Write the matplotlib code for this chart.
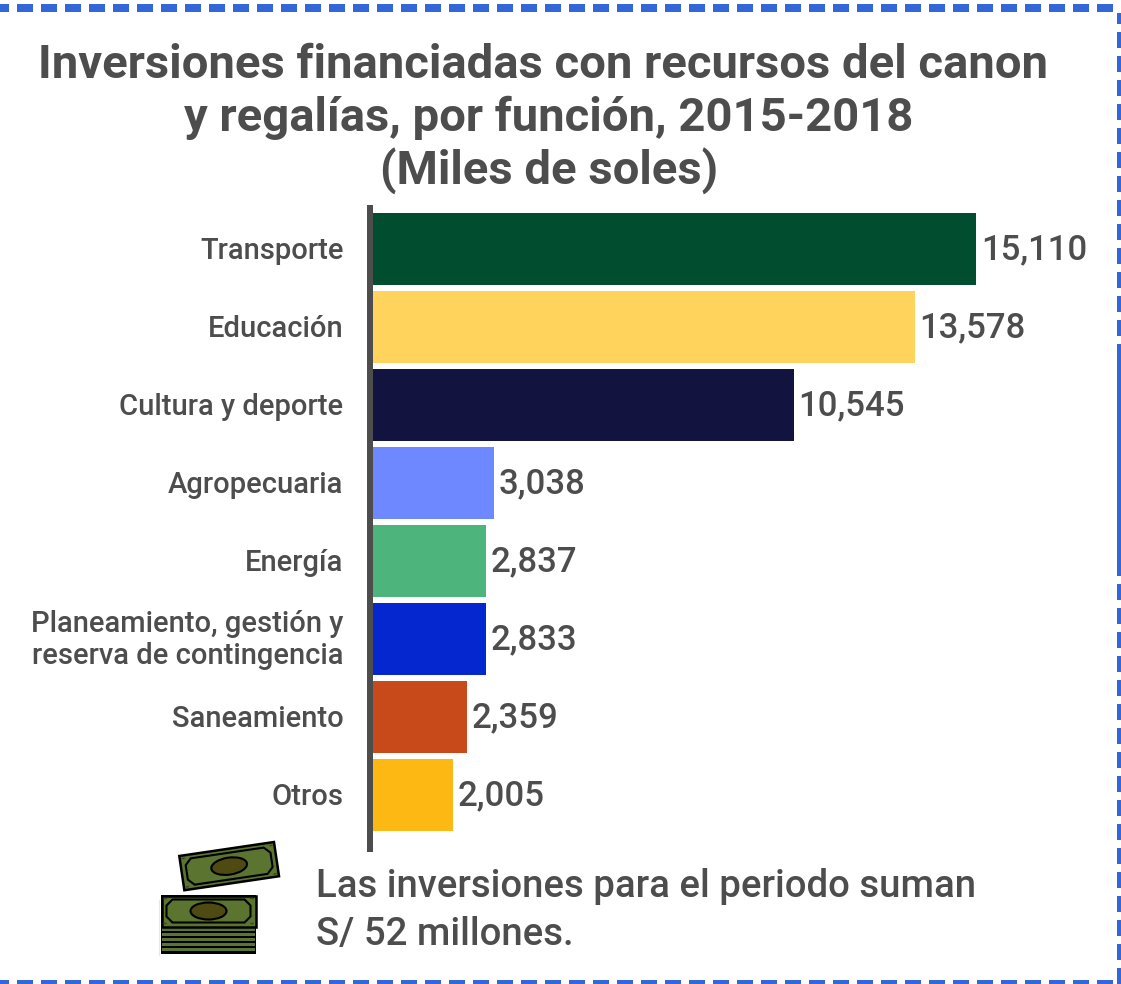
import matplotlib
matplotlib.use('Agg')
import matplotlib.pyplot as plt
from matplotlib.patches import Rectangle, Ellipse, Polygon
from matplotlib.transforms import Affine2D, ScaledTranslation

plt.rcParams['font.family'] = ['Roboto', 'DejaVu Sans']

categories = ['Transporte', 'Educación', 'Cultura y deporte', 'Agropecuaria', 'Energía',
              'Planeamiento, gestión y\nreserva de contingencia', 'Saneamiento', 'Otros']
values = [15110, 13578, 10545, 3038, 2837, 2833, 2359, 2005]
bar_colors = ['#004D30', '#FFD35C', '#12143F', '#6E89FF', '#4DB57C', '#0527D0', '#C84A1B', '#FDB813']
title_lines = ['Inversiones financiadas con recursos del canon',
               'y regalías, por función, 2015-2018',
               '(Miles de soles)']
note = 'Las inversiones para el periodo suman\nS/ 52 millones.'

W, H = 1121, 984
TEXT = '#4D4D4D'
BLUE = '#3366D6'
GREEN = '#5B7430'

fig = plt.figure(figsize=(W / 100, H / 100), dpi=100)

# bars: axes runs from the bar origin to the right edge of the figure
ax = fig.add_axes([373 / W, 1 - 852 / H, (W - 373) / W, (852 - 205) / H])
for s in ['top', 'right', 'bottom']:
    ax.spines[s].set_visible(False)
# moving the spine resets the ticks, so this comes before the tick labels
ax.spines['left'].set_position(('outward', 3 * 0.72))
ax.spines['left'].set_linewidth(6 * 0.72)
ax.spines['left'].set_color(TEXT)
ax.spines['left'].set_capstyle('butt')

y = list(range(len(categories)))
bars = ax.barh(y, values, height=0.92, color=bar_colors)
ax.set_xlim(0, 18747)
ax.set_ylim(7.731, -0.564)
ax.set_yticks(y, categories, fontsize=21, fontweight='medium', color=TEXT,
              multialignment='right', linespacing=1.16)
ax.tick_params(axis='y', length=0, pad=19)
ax.xaxis.set_visible(False)
# nudge the labels up, the two-line one a bit more
for lab in ax.get_yticklabels():
    dy = 3.5 if '\n' in lab.get_text() else 1
    lab.set_transform(lab.get_transform() + ScaledTranslation(0, dy / 100, fig.dpi_scale_trans))
labels = ax.bar_label(bars, fmt='{:,.0f}', padding=3.5, fontsize=25, fontweight='medium', color=TEXT)
for t in labels:
    t.xyann = (t.xyann[0], -0.8)
ax.patch.set_alpha(0)

# title lines are not quite centred on each other in the source
for line, cx, base in zip(title_lines, [542.5, 549, 549], [78, 131, 184]):
    fig.text(cx / W, 1 - base / H, line, ha='center', va='baseline', fontsize=34,
             fontweight='bold', color=TEXT)
fig.text(316 / W, 1 - 910.5 / H, note, ha='left', va='center', fontsize=27.6,
         fontweight='medium', color=TEXT, linespacing=1.365)

# overlay in pixel coordinates for the frame and the money icon
ov = fig.add_axes([0, 0, 1, 1], zorder=5)
ov.set_xlim(0, W)
ov.set_ylim(H, 0)
ov.axis('off')


def box(x0, y0, x1, y1, color=BLUE):
    ov.add_patch(Rectangle((x0, y0), x1 - x0, y1 - y0, color=color, lw=0))


# dashed frame, one side partly solid like in the source
for k in range(-1, 47):
    x0 = 17 + 24 * k
    box(max(x0, 0), 4, x0 + 16, 12)
    box(max(x0, 0), 980, x0 + 16, 984)
for k in range(0, 41):
    y0 = 8 + 24 * k
    if 14 <= k < 23:
        continue
    box(1117, max(y0, 13), 1121, y0 + 16)
box(1117, 344, 1121, 576)
ov.plot([159, 159], [900, 955], color='#E8E8E8', lw=0.8)


def draw_bill(x0, y0, w, h, tr):
    t = tr + ov.transData
    ov.add_patch(Rectangle((x0, y0), w, h, fc=GREEN, ec='black', lw=1.8, transform=t))
    ix, iy, n = 5, 4, 6
    frame = [(x0 + ix + n, y0 + iy), (x0 + w - ix - n, y0 + iy), (x0 + w - ix, y0 + iy + n),
             (x0 + w - ix, y0 + h - iy - n), (x0 + w - ix - n, y0 + h - iy), (x0 + ix + n, y0 + h - iy),
             (x0 + ix, y0 + h - iy - n), (x0 + ix, y0 + iy + n)]
    ov.add_patch(Polygon(frame, closed=True, fc=GREEN, ec='black', lw=1.5, transform=t))
    ov.add_patch(Ellipse((x0 + w / 2, y0 + h / 2), 36, 17, fc='#4E4A12', ec='black', lw=1.5, transform=t))
    for cx, cy in [(x0 + 3.5, y0 + 3), (x0 + w - 3.5, y0 + 3), (x0 + 3.5, y0 + h - 3), (x0 + w - 3.5, y0 + h - 3)]:
        ov.add_patch(Ellipse((cx, cy), 4, 1.6, fc='#3A4A20', lw=0, transform=t))


# stack of notes
box(160.7, 895, 256.3, 954, 'black')
for k in range(5):
    box(162, 928 + k * 5, 255, 930.5 + k * 5, GREEN)
draw_bill(161.5, 895.5, 94, 31, Affine2D())
# loose note on top, tilted
draw_bill(0, 0, 95.7, 34.6, Affine2D().rotate_deg(-8.4).translate(179.3, 856))

fig.savefig('out.png', dpi=100)
